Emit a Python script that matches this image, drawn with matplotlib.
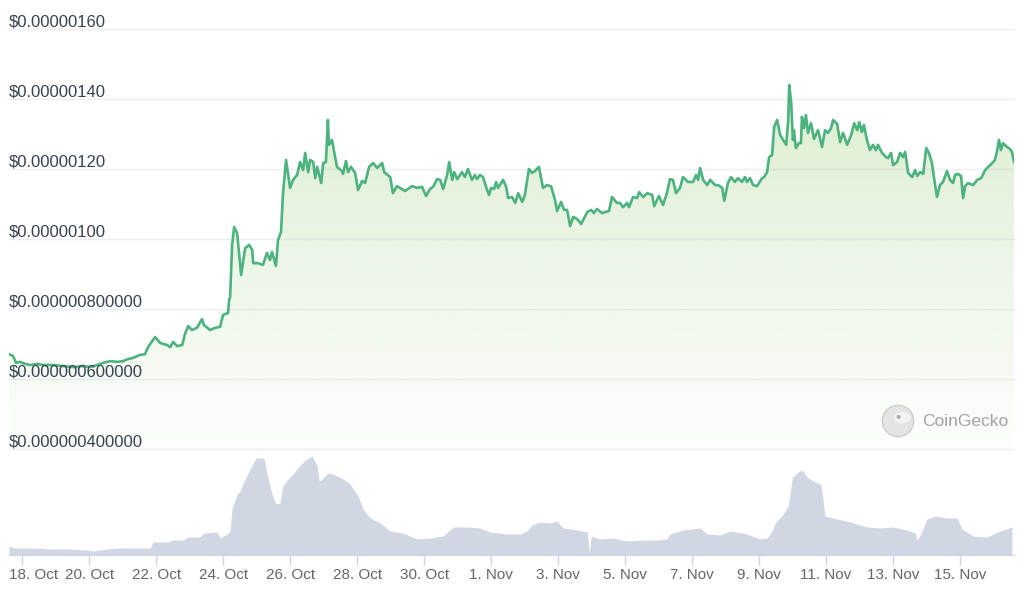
import matplotlib.pyplot as plt
import numpy as np
from matplotlib.colors import to_rgb
from matplotlib.patches import Circle, Ellipse, PathPatch

# x values are days counted from 18 Oct 00:00, prices in millionths of a dollar
price_days = [
    -0.39, -0.27, -0.18, -0.06, 0.09, 0.24, 0.45, 0.63, 0.93, 1.22,
    1.52, 1.82, 2.03, 2.24, 2.42, 2.63, 2.84, 3.01, 3.16, 3.31,
    3.52, 3.67, 3.76, 3.97, 4.12, 4.33, 4.42, 4.51, 4.63, 4.78,
    4.87, 4.96, 5.07, 5.22, 5.37, 5.43, 5.61, 5.76, 5.91, 6.00,
    6.15, 6.18, 6.21, 6.27, 6.33, 6.42, 6.54, 6.66, 6.78, 6.87,
    6.90, 7.04, 7.19, 7.31, 7.40, 7.46, 7.58, 7.64, 7.73, 7.79,
    7.88, 8.00, 8.09, 8.21, 8.30, 8.39, 8.45, 8.54, 8.60, 8.69,
    8.75, 8.81, 8.93, 8.99, 9.07, 9.13, 9.16, 9.25, 9.40, 9.55,
    9.58, 9.67, 9.73, 9.82, 9.94, 10.03, 10.15, 10.24, 10.36, 10.48,
    10.60, 10.75, 10.81, 10.99, 11.07, 11.19, 11.28, 11.43, 11.64, 11.79,
    11.94, 12.06, 12.18, 12.27, 12.39, 12.48, 12.57, 12.69, 12.75, 12.84,
    12.90, 12.99, 13.13, 13.22, 13.31, 13.43, 13.52, 13.58, 13.67, 13.76,
    13.88, 13.94, 14.00, 14.09, 14.15, 14.21, 14.36, 14.45, 14.51, 14.63,
    14.72, 14.81, 14.93, 15.01, 15.13, 15.22, 15.31, 15.43, 15.55, 15.67,
    15.79, 15.91, 15.97, 16.09, 16.18, 16.27, 16.36, 16.45, 16.57, 16.69,
    16.78, 16.87, 16.99, 17.07, 17.16, 17.31, 17.40, 17.52, 17.61, 17.76,
    17.85, 17.94, 18.06, 18.12, 18.24, 18.36, 18.42, 18.54, 18.66, 18.81,
    18.87, 19.01, 19.13, 19.25, 19.34, 19.43, 19.52, 19.64, 19.73, 19.88,
    20.03, 20.12, 20.18, 20.24, 20.33, 20.45, 20.54, 20.69, 20.78, 20.90,
    20.96, 21.07, 21.16, 21.28, 21.37, 21.49, 21.58, 21.64, 21.73, 21.82,
    21.94, 22.00, 22.09, 22.15, 22.24, 22.30, 22.39, 22.45, 22.54, 22.63,
    22.72, 22.81, 22.87, 22.90, 22.96, 23.01, 23.04, 23.10, 23.19, 23.25,
    23.28, 23.34, 23.40, 23.46, 23.55, 23.64, 23.76, 23.88, 23.97, 24.06,
    24.15, 24.21, 24.33, 24.42, 24.51, 24.63, 24.75, 24.84, 24.93, 24.99,
    25.07, 25.13, 25.22, 25.31, 25.40, 25.49, 25.55, 25.67, 25.79, 25.85,
    25.94, 26.00, 26.12, 26.21, 26.30, 26.36, 26.45, 26.57, 26.66, 26.72,
    26.81, 26.90, 26.99, 27.07, 27.16, 27.22, 27.31, 27.40, 27.49, 27.61,
    27.70, 27.79, 27.85, 27.94, 28.03, 28.09, 28.15, 28.24, 28.39, 28.51,
    28.63, 28.75, 28.84, 28.96, 29.04, 29.10, 29.16, 29.22, 29.28, 29.40,
    29.49, 29.55, 29.61,
]
prices = [
    0.671, 0.666, 0.646, 0.649, 0.643, 0.640, 0.643, 0.640, 0.640, 0.637,
    0.634, 0.637, 0.634, 0.640, 0.646, 0.651, 0.649, 0.651, 0.657, 0.660,
    0.669, 0.671, 0.691, 0.720, 0.703, 0.697, 0.691, 0.706, 0.694, 0.697,
    0.731, 0.751, 0.740, 0.746, 0.771, 0.754, 0.740, 0.746, 0.749, 0.783,
    0.789, 0.826, 0.834, 0.983, 1.034, 1.017, 0.897, 0.974, 0.983, 0.969,
    0.931, 0.931, 0.926, 0.960, 0.940, 0.963, 0.923, 0.997, 1.020, 1.131,
    1.226, 1.146, 1.169, 1.183, 1.220, 1.197, 1.246, 1.191, 1.226, 1.220,
    1.174, 1.206, 1.160, 1.217, 1.220, 1.340, 1.269, 1.283, 1.206, 1.194,
    1.186, 1.223, 1.191, 1.206, 1.189, 1.140, 1.166, 1.160, 1.206, 1.217,
    1.203, 1.217, 1.191, 1.177, 1.131, 1.151, 1.146, 1.137, 1.151, 1.146,
    1.149, 1.123, 1.143, 1.149, 1.171, 1.169, 1.143, 1.183, 1.220, 1.169,
    1.191, 1.171, 1.191, 1.177, 1.200, 1.169, 1.183, 1.171, 1.183, 1.177,
    1.140, 1.126, 1.146, 1.143, 1.163, 1.146, 1.169, 1.149, 1.117, 1.120,
    1.103, 1.131, 1.106, 1.126, 1.200, 1.189, 1.194, 1.206, 1.146, 1.154,
    1.151, 1.111, 1.080, 1.106, 1.083, 1.083, 1.037, 1.063, 1.057, 1.043,
    1.060, 1.077, 1.083, 1.074, 1.086, 1.074, 1.077, 1.080, 1.120, 1.103,
    1.103, 1.091, 1.103, 1.091, 1.120, 1.117, 1.134, 1.120, 1.131, 1.126,
    1.094, 1.123, 1.097, 1.131, 1.171, 1.169, 1.131, 1.146, 1.177, 1.163,
    1.163, 1.183, 1.169, 1.203, 1.169, 1.154, 1.169, 1.154, 1.154, 1.146,
    1.109, 1.160, 1.177, 1.163, 1.174, 1.163, 1.177, 1.163, 1.174, 1.154,
    1.151, 1.160, 1.174, 1.177, 1.191, 1.234, 1.240, 1.320, 1.340, 1.297,
    1.283, 1.269, 1.340, 1.440, 1.389, 1.283, 1.311, 1.260, 1.274, 1.274,
    1.349, 1.317, 1.354, 1.303, 1.331, 1.286, 1.311, 1.263, 1.311, 1.303,
    1.317, 1.340, 1.329, 1.277, 1.303, 1.269, 1.297, 1.331, 1.311, 1.334,
    1.306, 1.326, 1.283, 1.254, 1.269, 1.254, 1.269, 1.246, 1.234, 1.231,
    1.246, 1.211, 1.220, 1.246, 1.234, 1.249, 1.189, 1.177, 1.197, 1.180,
    1.191, 1.186, 1.260, 1.246, 1.217, 1.177, 1.120, 1.154, 1.163, 1.194,
    1.169, 1.160, 1.183, 1.186, 1.180, 1.117, 1.151, 1.160, 1.154, 1.169,
    1.174, 1.197, 1.206, 1.217, 1.226, 1.249, 1.283, 1.254, 1.274, 1.263,
    1.257, 1.249, 1.220,
]

vol_days = [
    -0.39, -0.21, 0.33, 0.84, 1.34, 1.94, 2.12, 2.54, 2.84, 3.31,
    3.82, 3.91, 4.33, 4.51, 4.81, 4.93, 5.31, 5.43, 5.82, 5.91,
    6.12, 6.21, 6.27, 6.42, 6.51, 6.60, 6.75, 6.90, 6.99, 7.10,
    7.22, 7.31, 7.46, 7.58, 7.70, 7.79, 7.94, 8.09, 8.30, 8.51,
    8.66, 8.81, 8.87, 8.96, 9.13, 9.28, 9.58, 9.79, 10.03, 10.18,
    10.39, 10.69, 10.99, 11.37, 11.79, 12.18, 12.57, 12.87, 13.28, 13.67,
    13.97, 14.48, 14.87, 15.07, 15.22, 15.46, 15.76, 15.97, 16.15, 16.57,
    16.87, 16.93, 16.99, 17.25, 17.64, 18.06, 18.54, 18.96, 19.25, 19.34,
    19.73, 20.24, 20.45, 20.84, 21.13, 21.64, 22.03, 22.24, 22.39, 22.48,
    22.72, 22.87, 22.99, 23.13, 23.28, 23.46, 23.67, 23.85, 23.97, 24.21,
    24.72, 25.22, 25.61, 26.00, 26.42, 26.66, 26.72, 26.84, 27.01, 27.25,
    27.64, 27.91, 28.06, 28.39, 28.81, 29.19, 29.55,
]
volumes = [
    9, 7, 7, 6, 6, 5, 4, 6, 7, 7,
    7, 13, 13, 15, 15, 18, 18, 22, 23, 17,
    21, 24, 47, 61, 64, 72, 82, 92, 97, 97,
    97, 81, 61, 51, 52, 69, 76, 81, 90, 96,
    99, 89, 74, 76, 82, 81, 76, 71, 59, 46,
    37, 32, 24, 22, 16, 17, 19, 28, 28, 27,
    23, 21, 21, 24, 30, 33, 32, 34, 27, 25,
    23, 1, 19, 16, 17, 14, 15, 15, 16, 21,
    25, 27, 21, 20, 24, 21, 16, 17, 24, 32,
    41, 49, 77, 82, 85, 77, 73, 71, 39, 37,
    33, 28, 27, 28, 25, 22, 15, 22, 36, 39,
    37, 37, 26, 19, 18, 24, 28,
]

tick_days = [0, 2, 4, 6, 8, 10, 12, 14, 16, 18, 20, 22, 24, 26, 28]
tick_labels = ['18. Oct', '20. Oct', '22. Oct', '24. Oct', '26. Oct', '28. Oct',
               '30. Oct', '1. Nov', '3. Nov', '5. Nov', '7. Nov', '9. Nov',
               '11. Nov', '13. Nov', '15. Nov']
price_ticks = [1.60, 1.40, 1.20, 1.00, 0.80, 0.60, 0.40]
price_labels = ['$0.00000160', '$0.00000140', '$0.00000120', '$0.00000100',
                '$0.000000800000', '$0.000000600000', '$0.000000400000']

plt.rcParams['font.family'] = ['Liberation Sans', 'DejaVu Sans']

W, H = 1024, 594
fig = plt.figure(figsize=(W / 100, H / 100), dpi=100)
left, right = 9, 1014
ax = fig.add_axes([left / W, 1 - 449 / H, (right - left) / W, (449 - 29) / H])
axv = fig.add_axes([left / W, 1 - 555 / H, (right - left) / W, (555 - 449) / H])

xmin, xmax = price_days[0], price_days[-1]

# gradient fill under the price line
fill = ax.fill_between(price_days, prices, 0.40, color='none', lw=0)
clip = PathPatch(fill.get_paths()[0], transform=ax.transData, facecolor='none', edgecolor='none')
ax.add_patch(clip)
grad = np.zeros((256, 1, 4))
grad[..., :3] = to_rgb('#8cc76a')
grad[:, 0, 3] = np.linspace(0.02, 0.30, 256)
im = ax.imshow(grad, extent=[xmin, xmax, 0.40, max(prices)], origin='lower',
               aspect='auto', zorder=1, interpolation='bilinear')
im.set_clip_path(clip)

ax.plot(price_days, prices, color='#4db37e', lw=1.9, solid_joinstyle='round', zorder=3)

for val, lab in zip(price_ticks, price_labels):
    ax.axhline(val, color='#eceef2', lw=1, zorder=0, clip_on=False)
    ax.annotate(lab, xy=(0, val), xycoords=('axes fraction', 'data'),
                xytext=(0, 1.5), textcoords='offset points', ha='left', va='baseline',
                fontsize=12, color='#364152', zorder=4)

ax.set_xlim(xmin, xmax)
ax.set_ylim(0.40, 1.60)
ax.set_xticks([])
ax.set_yticks([])
for s in ax.spines.values():
    s.set_visible(False)
ax.patch.set_alpha(0)

# volume panel
axv.fill_between(vol_days, volumes, 0, color='#d0d7e3', lw=0)
axv.set_xlim(xmin, xmax)
axv.set_ylim(0, 106)
axv.set_yticks([])
# the first label is pushed right so it stays inside the figure, as in the original
axv.set_xticks(tick_days, [''] + tick_labels[1:])
axv.tick_params(axis='x', length=7.2, width=1, color='#ccd6eb', labelcolor='#666666',
                labelsize=11, pad=2)
axv.annotate(tick_labels[0], xy=(0, 0), xycoords='axes fraction',
             xytext=(0, -9.3), textcoords='offset points', ha='left', va='top',
             fontsize=11, color='#666666')
for name, s in axv.spines.items():
    s.set_visible(name == 'bottom')
axv.spines['bottom'].set_color('#ccd6eb')
axv.patch.set_alpha(0)

# CoinGecko watermark
lax = fig.add_axes([(898 - 17) / W, 1 - (421 + 17) / H, 34 / W, 34 / H])
lax.set_xlim(0, 1)
lax.set_ylim(0, 1)
lax.set_aspect('equal')
lax.axis('off')
lax.add_patch(Circle((0.5, 0.5), 0.46, facecolor='#e4e4e4', edgecolor='#cdcdcd', lw=1))
lax.add_patch(Ellipse((0.62, 0.6), 0.5, 0.34, facecolor='#f3f3f3', edgecolor='none'))
lax.add_patch(Circle((0.52, 0.62), 0.06, facecolor='#a9a9a9', edgecolor='none'))
fig.text(922 / W, 1 - 421 / H, 'CoinGecko', ha='left', va='center',
         fontsize=12.5, color='#a3a3a3')

fig.savefig('out.png', dpi=100)
